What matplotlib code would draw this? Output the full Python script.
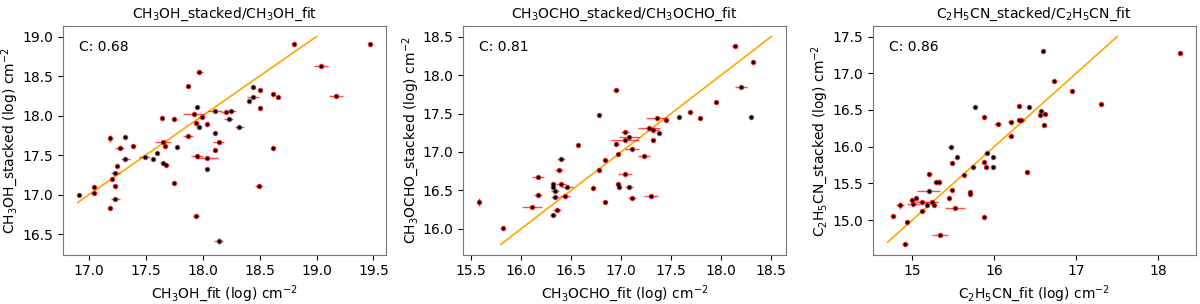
import numpy as np
import matplotlib
matplotlib.use("Agg")
import matplotlib.pyplot as plt

# CH3OH panel
ch3oh_fit = [16.91, 17.04, 17.04, 17.18, 17.18, 17.20, 17.23, 17.23, 17.23, 17.25,
             17.27, 17.32, 17.32, 17.39, 17.49, 17.56, 17.60, 17.64, 17.65, 17.65,
             17.67, 17.68, 17.75, 17.75, 17.77, 17.87, 17.87, 17.92, 17.94, 17.94,
             17.95, 17.95, 17.97, 17.97, 17.99, 18.04, 18.04, 18.04, 18.11, 18.11,
             18.11, 18.14, 18.14, 18.20, 18.23, 18.25, 18.32, 18.41, 18.44, 18.44,
             18.49, 18.50, 18.50, 18.62, 18.62, 18.66, 18.80, 19.04, 19.17, 19.47]
ch3oh_stacked = [17.00, 17.10, 17.02, 17.71, 16.83, 17.20, 17.27, 17.11, 16.94, 17.36,
                 17.59, 17.73, 17.45, 17.61, 17.48, 17.45, 17.52, 17.97, 17.66, 17.40,
                 17.61, 17.38, 17.96, 17.15, 17.60, 18.38, 17.74, 18.02, 17.91, 16.73,
                 18.11, 17.49, 17.85, 18.55, 17.98, 17.89, 17.46, 17.32, 18.06, 17.78,
                 17.57, 17.66, 16.41, 18.05, 17.96, 18.06, 17.86, 18.19, 18.36, 18.23,
                 17.11, 18.32, 18.10, 18.27, 17.59, 18.24, 18.91, 18.63, 18.25, 18.90]
ch3oh_xerr = [0.01, 0.01, 0.02, 0.01, 0.01, 0.01, 0.04, 0.01, 0.04, 0.01,
              0.04, 0.01, 0.04, 0.01, 0.05, 0.01, 0.01, 0.01, 0.07, 0.02,
              0.01, 0.01, 0.01, 0.01, 0.01, 0.01, 0.04, 0.09, 0.01, 0.03,
              0.01, 0.05, 0.01, 0.03, 0.02, 0.01, 0.09, 0.01, 0.06, 0.01,
              0.01, 0.05, 0.04, 0.04, 0.04, 0.04, 0.04, 0.01, 0.02, 0.05,
              0.03, 0.01, 0.01, 0.01, 0.01, 0.01, 0.01, 0.06, 0.06, 0.01]
ch3oh_yerr = [0.01, 0.01, 0.01, 0.05, 0.01, 0.01, 0.01, 0.01, 0.01, 0.01,
              0.02, 0.01, 0.02, 0.01, 0.01, 0.01, 0.01, 0.01, 0.01, 0.01,
              0.01, 0.01, 0.01, 0.01, 0.01, 0.01, 0.01, 0.01, 0.01, 0.02,
              0.01, 0.01, 0.01, 0.01, 0.01, 0.01, 0.01, 0.01, 0.01, 0.01,
              0.01, 0.01, 0.04, 0.01, 0.01, 0.01, 0.01, 0.01, 0.01, 0.01,
              0.01, 0.01, 0.01, 0.01, 0.01, 0.01, 0.01, 0.01, 0.01, 0.01]

# CH3OCHO panel
ch3ocho_fit = [15.58, 15.82, 16.11, 16.17, 16.17, 16.32, 16.32, 16.32, 16.34, 16.34,
               16.36, 16.38, 16.40, 16.40, 16.44, 16.46, 16.57, 16.72, 16.78, 16.78,
               16.84, 16.84, 16.95, 16.95, 16.97, 16.97, 16.98, 17.04, 17.04, 17.04,
               17.08, 17.08, 17.11, 17.11, 17.23, 17.28, 17.30, 17.32, 17.32, 17.36,
               17.38, 17.45, 17.58, 17.69, 17.79, 17.95, 18.14, 18.20, 18.30, 18.32]
ch3ocho_stacked = [16.35, 16.01, 16.28, 16.67, 16.44, 16.59, 16.55, 16.18, 16.49, 16.41,
                   16.25, 16.77, 16.91, 16.59, 16.43, 16.55, 17.09, 16.53, 17.48, 16.76,
                   16.90, 16.35, 17.81, 17.10, 16.97, 16.59, 16.55, 17.26, 17.16, 16.71,
                   17.20, 16.54, 17.04, 16.40, 16.95, 17.31, 16.43, 17.29, 17.16, 17.44,
                   17.25, 17.42, 17.46, 17.52, 17.44, 17.65, 18.38, 17.85, 17.45, 18.17]
ch3ocho_xerr = [0.01, 0.01, 0.10, 0.06, 0.04, 0.02, 0.02, 0.03, 0.04, 0.04,
                0.04, 0.04, 0.04, 0.05, 0.05, 0.06, 0.01, 0.01, 0.01, 0.02,
                0.01, 0.01, 0.03, 0.01, 0.02, 0.01, 0.01, 0.04, 0.14, 0.07,
                0.10, 0.04, 0.07, 0.04, 0.06, 0.11, 0.07, 0.06, 0.02, 0.11,
                0.02, 0.02, 0.01, 0.01, 0.01, 0.01, 0.03, 0.06, 0.01, 0.01]
ch3ocho_yerr = [0.05, 0.01, 0.01, 0.02, 0.01, 0.01, 0.01, 0.01, 0.01, 0.01,
                0.01, 0.01, 0.01, 0.01, 0.01, 0.01, 0.01, 0.01, 0.01, 0.01,
                0.01, 0.01, 0.01, 0.01, 0.01, 0.01, 0.01, 0.01, 0.01, 0.01,
                0.01, 0.01, 0.01, 0.01, 0.01, 0.01, 0.01, 0.01, 0.01, 0.01,
                0.01, 0.01, 0.01, 0.01, 0.01, 0.01, 0.01, 0.01, 0.01, 0.01]

# C2H5CN panel
c2h5cn_fit = [14.77, 14.85, 14.91, 14.94, 15.00, 15.01, 15.05, 15.12, 15.12, 15.18,
              15.20, 15.21, 15.24, 15.26, 15.29, 15.33, 15.34, 15.45, 15.47, 15.49,
              15.49, 15.52, 15.54, 15.63, 15.70, 15.71, 15.74, 15.76, 15.87, 15.88,
              15.88, 15.90, 15.91, 15.98, 15.98, 16.04, 16.20, 16.20, 16.30, 16.30,
              16.33, 16.40, 16.43, 16.56, 16.57, 16.59, 16.61, 16.62, 16.73, 16.95,
              17.30, 18.27]
c2h5cn_stacked = [15.05, 15.20, 14.68, 14.98, 15.28, 15.22, 15.30, 15.25, 15.13, 15.20,
                  15.40, 15.63, 15.25, 15.20, 15.52, 15.52, 14.80, 15.30, 15.99, 15.78,
                  15.41, 15.16, 15.86, 15.62, 15.35, 15.38, 15.72, 16.54, 16.41, 15.04,
                  15.79, 15.72, 15.92, 15.86, 15.72, 16.31, 16.34, 16.15, 16.56, 16.36,
                  16.37, 15.66, 16.54, 16.43, 16.48, 17.30, 16.29, 16.45, 16.90, 16.76,
                  16.58, 17.28]
c2h5cn_xerr = [0.01, 0.05, 0.04, 0.01, 0.04, 0.08, 0.02, 0.09, 0.03, 0.02,
               0.14, 0.03, 0.08, 0.02, 0.04, 0.02, 0.10, 0.01, 0.03, 0.01,
               0.02, 0.12, 0.02, 0.01, 0.01, 0.01, 0.02, 0.01, 0.01, 0.01,
               0.01, 0.01, 0.03, 0.01, 0.02, 0.04, 0.03, 0.03, 0.01, 0.02,
               0.04, 0.02, 0.01, 0.01, 0.01, 0.01, 0.01, 0.01, 0.02, 0.01,
               0.02, 0.01]
c2h5cn_yerr = [0.01, 0.05, 0.01, 0.01, 0.02, 0.01, 0.01, 0.01, 0.01, 0.01,
               0.01, 0.02, 0.01, 0.01, 0.02, 0.04, 0.01, 0.01, 0.02, 0.01,
               0.01, 0.01, 0.01, 0.01, 0.01, 0.02, 0.01, 0.01, 0.01, 0.01,
               0.01, 0.01, 0.01, 0.01, 0.01, 0.01, 0.01, 0.02, 0.01, 0.01,
               0.01, 0.02, 0.01, 0.01, 0.01, 0.01, 0.01, 0.01, 0.01, 0.01,
               0.02, 0.01]

panels = [
    ("CH$_3$OH", ch3oh_fit, ch3oh_stacked, ch3oh_xerr, ch3oh_yerr, (16.9, 19.0), 0.68),
    ("CH$_3$OCHO", ch3ocho_fit, ch3ocho_stacked, ch3ocho_xerr, ch3ocho_yerr, (15.8, 18.5), 0.81),
    ("C$_2$H$_5$CN", c2h5cn_fit, c2h5cn_stacked, c2h5cn_xerr, c2h5cn_yerr, (14.7, 17.5), 0.86),
]

fig = plt.figure(figsize=(12, 3.04), dpi=100)
lefts = [0.0525, 0.386, 0.7275]

for left, (name, xf, ys, xe, ye, lim, corr) in zip(lefts, panels):
    ax = fig.add_axes([left, 0.162, 0.269, 0.752])
    ax.errorbar(xf, ys, xerr=xe, yerr=ye, fmt="o", ms=3, color="red",
                ecolor="red", elinewidth=1, alpha=0.7, zorder=2)
    ax.scatter(xf, ys, s=2.5, color="black", zorder=3)
    ax.plot(lim, lim, color="orange", linewidth=1.2, zorder=1)
    ax.text(0.05, 0.91, f"C: {corr}", transform=ax.transAxes, fontsize=10, va="center")
    ax.set_title(f"{name}_stacked/{name}_fit", fontsize=10)
    ax.set_xlabel(f"{name}_fit (log) cm$^{{-2}}$", fontsize=10, labelpad=3)
    ax.set_ylabel(f"{name}_stacked (log) cm$^{{-2}}$", fontsize=10, labelpad=1.5)
    ax.tick_params(labelsize=10)
    for sp in ax.spines.values():
        sp.set_edgecolor("#777777")

fig.savefig("out.png", dpi=100)
